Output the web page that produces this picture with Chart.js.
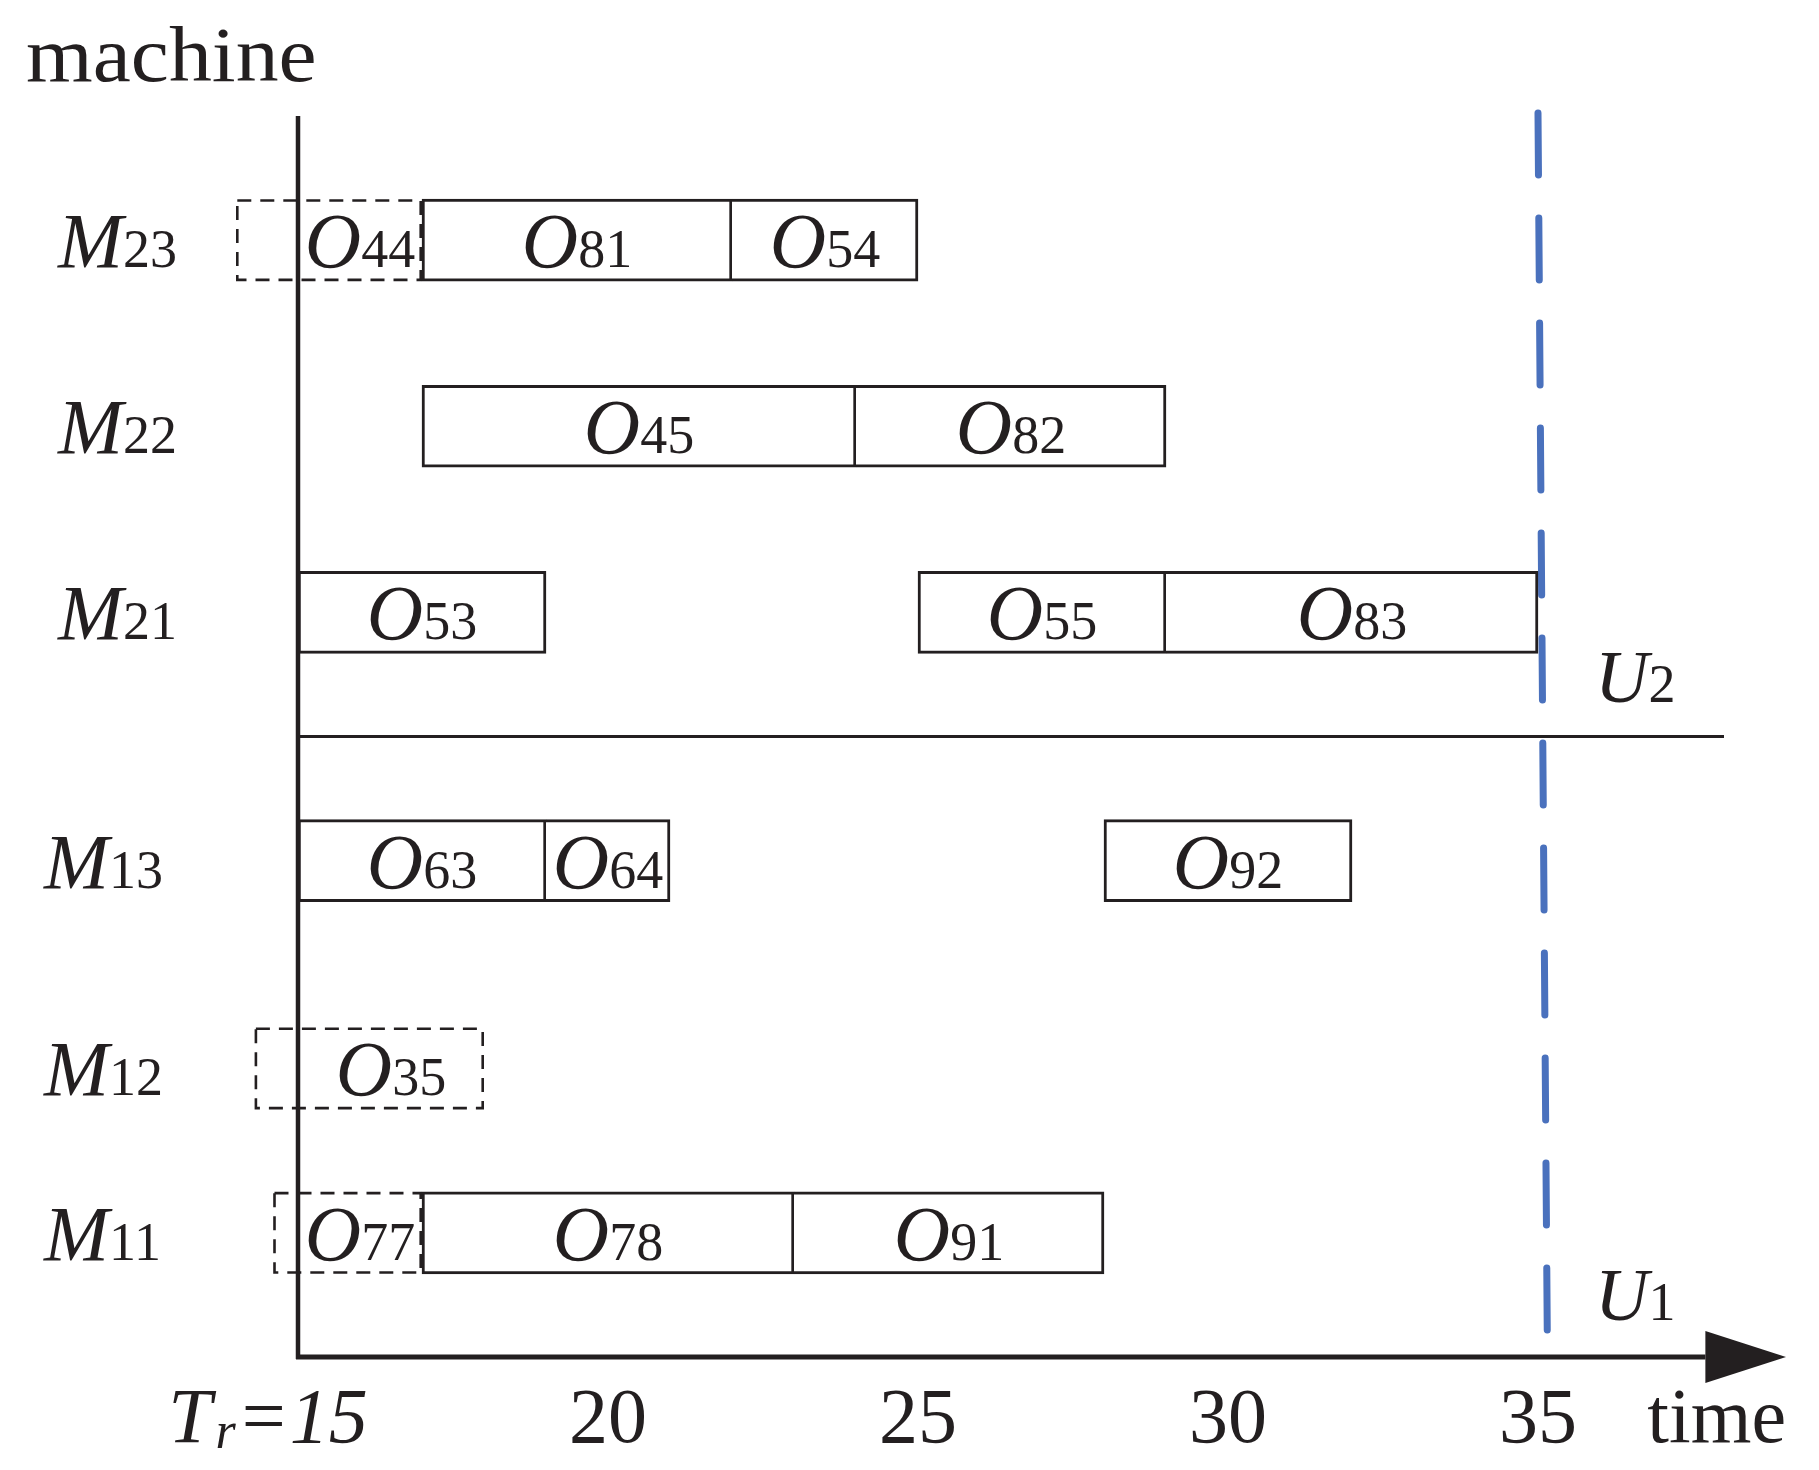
<!DOCTYPE html>
<html lang="en">
<head>
<meta charset="UTF-8">
<title>Machine schedule</title>
<style>
  body { margin: 0; background: #fff; }
  canvas { display: block; }
</style>
</head>
<body>
<canvas id="gantt" width="1819" height="1470"></canvas>
<script src="https://cdn.jsdelivr.net/npm/chart.js"></script>
<script>
// machines and the height of their row on the y axis
const machines = ['M23', 'M22', 'M21', 'M13', 'M12', 'M11'];
const machineRows = [18, 15, 12, 8, 4.65, 2];

// operations O_xx: machine, start, end; dashed = started before Tr
const ops      = ['44', '81', '54', '45', '82', '53', '55', '83', '63', '64', '92', '35', '77', '78', '91'];
const opMach   = ['M23', 'M23', 'M23', 'M22', 'M22', 'M21', 'M21', 'M21', 'M13', 'M13', 'M13', 'M12', 'M11', 'M11', 'M11'];
const opStart  = [14, 17, 22, 17, 24, 15, 25, 29, 15, 19, 28, 14.3, 14.6, 17, 23];
const opEnd    = [17, 22, 25, 24, 29, 19, 29, 35, 19, 21, 32, 18, 17, 23, 28];
const opDashed = [true, false, false, false, false, false, false, false, false, false, false, true, true, false, false];

const xTicks = [15, 20, 25, 30, 35];
const tr = 15;            // rescheduling time, the y axis sits here
const yTop = 20;          // top of the y axis
const xArrow = [37.7, 39]; // arrow head base / tip on the time axis
const unitSplit = 10;     // line between unit 2 and unit 1
const splitEnd = 38;
const breakdown = [{ x: 35, y: 20.05 }, { x: 35.15, y: 0.32 }];

const ink = '#231f20';
const blue = '#4a71bd';
const serif = '"Liberation Serif", "Times New Roman", serif';

const boxes = ops.map((o, i) => ({
  y: machineRows[machines.indexOf(opMach[i])],
  x: [opStart[i], opEnd[i]]
}));

// does another solid box on the same machine end where this one starts?
function followsSolid(i) {
  return ops.some((_, j) => j !== i && !opDashed[j] && opMach[j] === opMach[i] && opEnd[j] === opStart[i]);
}

// draw "main" + smaller "sub" sharing one baseline
function subText(ctx, main, sub, x, y, align, mainSize) {
  const mf = 'italic ' + (mainSize || 78) + 'px ' + serif;
  const sf = '54px ' + serif;
  ctx.font = mf; const w1 = ctx.measureText(main).width;
  ctx.font = sf; const w2 = ctx.measureText(sub).width;
  let x0 = x;
  if (align === 'center') x0 = x - (w1 + w2) / 2;
  if (align === 'right') x0 = x - w1 - w2;
  ctx.textAlign = 'left';
  ctx.textBaseline = 'alphabetic';
  ctx.font = mf; ctx.fillText(main, x0, y);
  ctx.font = sf; ctx.fillText(sub, x0 + w1, y);
}

const ganttDecor = {
  id: 'ganttDecor',
  afterDatasetsDraw(chart) {
    const ctx = chart.ctx;
    const xs = chart.scales.x, ys = chart.scales.y;
    const meta = chart.getDatasetMeta(0);
    ctx.save();
    ctx.fillStyle = ink;
    ctx.strokeStyle = ink;

    // dashed boxes
    ctx.lineWidth = 2.6;
    ctx.setLineDash([14, 9]);
    meta.data.forEach((bar, i) => {
      if (!opDashed[i]) return;
      const p = bar.getProps(['x', 'y', 'base', 'height'], true);
      ctx.strokeRect(p.base + 1.3, p.y - p.height / 2 + 1.3, p.x - p.base - 2.6, p.height - 2.6);
    });
    ctx.setLineDash([]);

    // axes
    const x0 = xs.getPixelForValue(tr);
    const y0 = ys.getPixelForValue(0);
    ctx.lineWidth = 4.5;
    ctx.beginPath();
    ctx.moveTo(x0, ys.getPixelForValue(yTop));
    ctx.lineTo(x0, y0 + 2);
    ctx.stroke();
    const aBase = xs.getPixelForValue(xArrow[0]);
    const aTip = xs.getPixelForValue(xArrow[1]);
    ctx.lineWidth = 5;
    ctx.beginPath();
    ctx.moveTo(x0 - 2, y0);
    ctx.lineTo(aBase, y0);
    ctx.stroke();
    ctx.beginPath();
    ctx.moveTo(aBase, y0 - 26);
    ctx.lineTo(aTip, y0);
    ctx.lineTo(aBase, y0 + 26);
    ctx.closePath();
    ctx.fill();

    // operation labels
    meta.data.forEach((bar, i) => {
      const p = bar.getProps(['y'], true);
      const cx = xs.getPixelForValue((Math.max(opStart[i], tr) + opEnd[i]) / 2);
      subText(ctx, 'O', ops[i], cx, p.y + 27, 'center');
    });

    // machine labels
    machines.forEach((m, k) => {
      const y = ys.getPixelForValue(machineRows[k]) + 27;
      const left = machineRows[k] > unitSplit ? 58 : 44;
      subText(ctx, m[0], m.slice(1), left, y, 'left');
    });

    // time ticks
    const ty = y0 + 85;
    xTicks.forEach(t => {
      const px = xs.getPixelForValue(t);
      if (t === tr) {
        const parts = [
          ['T', 'italic 78px ' + serif, 0, 4],
          ['r', 'italic 52px ' + serif, 6, 6],
          ['=', '78px ' + serif, 0, 4],
          [String(t), 'italic 78px ' + serif, 0, 0]
        ];
        let w = 0;
        parts.forEach(pt => { ctx.font = pt[1]; w += ctx.measureText(pt[0]).width + pt[3]; });
        let cx = px - 30 - w / 2;
        ctx.textAlign = 'left';
        parts.forEach(pt => {
          ctx.font = pt[1];
          ctx.fillText(pt[0], cx, ty + pt[2]);
          cx += ctx.measureText(pt[0]).width + pt[3];
        });
      } else {
        ctx.font = '78px ' + serif;
        ctx.textAlign = 'center';
        ctx.fillText(String(t), px, ty);
      }
    });

    // axis titles
    ctx.font = '78px ' + serif;
    ctx.textAlign = 'right';
    ctx.fillText('time', aTip, ty);
    ctx.save();
    ctx.translate(26, 81);
    ctx.scale(1.1, 1);
    ctx.textAlign = 'left';
    ctx.fillText('machine', 0, 0);
    ctx.restore();

    // unit labels
    const ux = xs.getPixelForValue(breakdown[0].x) + 57;
    subText(ctx, 'U', '2', ux, ys.getPixelForValue(unitSplit) - 35, 'left', 74);
    subText(ctx, 'U', '1', ux, y0 - 37, 'left', 74);
    ctx.restore();
  }
};

new Chart(document.getElementById('gantt'), {
  type: 'bar',
  data: {
    datasets: [
      {
        type: 'bar',
        indexAxis: 'y',
        data: boxes,
        barThickness: 82,
        borderSkipped: false,
        borderColor: ink,
        backgroundColor: c => opDashed[c.dataIndex] ? 'rgba(0,0,0,0)' : '#ffffff',
        borderWidth: c => {
          const i = c.dataIndex;
          if (opDashed[i]) return 0;
          return { top: 3, bottom: 3, left: followsSolid(i) ? 0 : 3, right: 3 };
        }
      },
      {
        type: 'line',
        data: [{ x: tr, y: unitSplit }, { x: splitEnd, y: unitSplit }],
        borderColor: ink,
        borderWidth: 3,
        pointRadius: 0
      },
      {
        type: 'line',
        data: breakdown,
        borderColor: blue,
        borderWidth: 7,
        borderDash: [62, 43],
        borderCapStyle: 'round',
        pointRadius: 0
      }
    ]
  },
  options: {
    responsive: false,
    animation: false,
    events: [],
    layout: { padding: { left: 50, right: 33, top: 23, bottom: 20 } },
    scales: {
      x: { type: 'linear', min: 11, max: 39, offset: false, display: false },
      y: { type: 'linear', min: -1.5, max: 21.5, offset: false, display: false }
    },
    plugins: { legend: { display: false }, tooltip: { enabled: false } }
  },
  plugins: [ganttDecor]
});
</script>
</body>
</html>
